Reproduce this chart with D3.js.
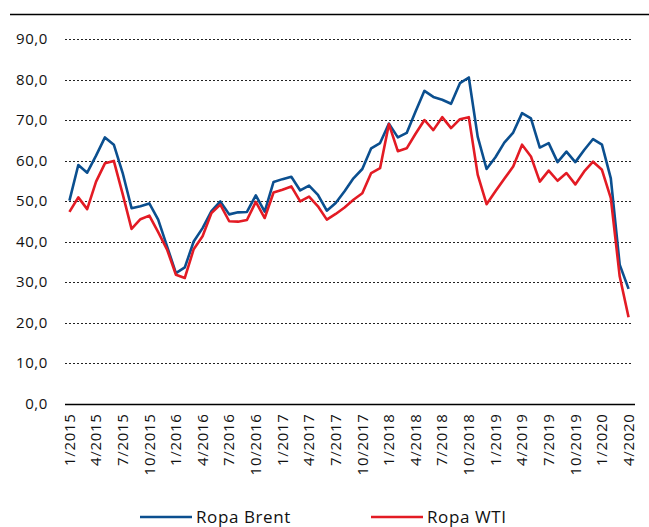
<!DOCTYPE html>
<html>
<head>
<meta charset="utf-8">
<script src="https://cdn.jsdelivr.net/npm/d3@7/dist/d3.min.js"></script>
<style>
  html, body { margin: 0; padding: 0; background: #fff; }
  svg { display: block; }
  text { font-family: "Open Sans", "Liberation Sans", sans-serif; fill: #111; }
</style>
</head>
<body>
<svg id="chart" width="649" height="527"></svg>
<script>
const categories = [
  "1/2015","2/2015","3/2015","4/2015","5/2015","6/2015","7/2015","8/2015","9/2015","10/2015","11/2015","12/2015",
  "1/2016","2/2016","3/2016","4/2016","5/2016","6/2016","7/2016","8/2016","9/2016","10/2016","11/2016","12/2016",
  "1/2017","2/2017","3/2017","4/2017","5/2017","6/2017","7/2017","8/2017","9/2017","10/2017","11/2017","12/2017",
  "1/2018","2/2018","3/2018","4/2018","5/2018","6/2018","7/2018","8/2018","9/2018","10/2018","11/2018","12/2018",
  "1/2019","2/2019","3/2019","4/2019","5/2019","6/2019","7/2019","8/2019","9/2019","10/2019","11/2019","12/2019",
  "1/2020","2/2020","3/2020","4/2020"
];
const tickLabels = ["1/2015","4/2015","7/2015","10/2015","1/2016","4/2016","7/2016","10/2016","1/2017","4/2017","7/2017","10/2017",
  "1/2018","4/2018","7/2018","10/2018","1/2019","4/2019","7/2019","10/2019","1/2020","4/2020"];
const yTicks = [0, 10, 20, 30, 40, 50, 60, 70, 80, 90];
const brent = [50.1,58.9,57.0,61.2,65.7,63.9,56.9,48.2,48.7,49.4,
  45.4,38.8,32.2,33.6,40.0,43.3,47.5,49.9,46.7,47.2,
  47.3,51.4,47.4,54.7,55.4,56.0,52.6,53.8,51.5,47.6,
  49.5,52.4,55.6,57.9,63.0,64.3,69.1,65.7,66.8,72.1,
  77.2,75.7,75.0,74.0,79.1,80.5,65.9,57.9,60.8,64.4,
  66.9,71.7,70.4,63.2,64.3,59.6,62.2,59.6,62.6,65.3,
  63.9,55.6,34.3,28.3];
const wti = [47.3,50.9,48.0,54.8,59.3,59.9,51.7,43.1,45.5,46.4,
  42.3,38.0,31.8,31.0,38.1,41.3,47.0,49.1,45.0,44.9,
  45.3,49.8,45.8,52.1,52.8,53.6,49.9,51.1,48.7,45.4,
  46.8,48.4,50.3,51.9,56.9,58.1,69.0,62.3,63.0,66.6,
  70.0,67.5,70.7,68.0,70.2,70.7,56.5,49.2,52.4,55.5,
  58.5,63.9,61.0,54.8,57.5,55.0,56.9,54.1,57.3,59.7,
  57.7,50.7,31.4,21.3];
const seriesNames = ["Ropa Brent", "Ropa WTI"];
const seriesColors = ["#0b4f8f", "#e31b24"];

const svg = d3.select("#chart");

// top rule
svg.append("line").attr("x1", 10).attr("x2", 649).attr("y1", 14.5).attr("y2", 14.5)
  .attr("stroke", "#000").attr("stroke-width", 1.3);

const x = d3.scaleBand().domain(categories).range([65, 633]).padding(0);
const y = d3.scaleLinear().domain([0, 90]).range([403.5, 39]);

// gridlines
svg.append("g").selectAll("line").data(yTicks.filter(d => d > 0)).join("line")
  .attr("x1", 65).attr("x2", 633)
  .attr("y1", d => Math.round(y(d)) + 0.5).attr("y2", d => Math.round(y(d)) + 0.5)
  .attr("stroke", "#222").attr("stroke-width", 1).attr("stroke-dasharray", "2,2");

// y axis labels
const yAxis = d3.axisLeft(y).tickValues(yTicks).tickSize(0).tickPadding(0)
  .tickFormat(d => d3.format(".1f")(d).replace(".", ","));
const gy = svg.append("g").attr("transform", "translate(48,0)").call(yAxis);
gy.select(".domain").remove();
gy.selectAll("text").attr("font-size", 15).attr("letter-spacing", 0.6)
  .attr("font-family", "'Open Sans', sans-serif").attr("fill", "#111");

// x axis
const xAxis = d3.axisBottom(x).tickValues(tickLabels).tickSize(0).tickPadding(0);
const gx = svg.append("g").attr("transform", `translate(0,${Math.round(y(0)) + 0.5})`).call(xAxis);
gx.select(".domain").remove();
gx.selectAll("text")
  .attr("font-size", 15).attr("letter-spacing", 0.7)
  .attr("font-family", "'Open Sans', sans-serif").attr("fill", "#111")
  .attr("transform", "rotate(-90)")
  .attr("text-anchor", "end")
  .attr("dy", "0.35em")
  .attr("x", -9).attr("y", 0);

svg.append("line").attr("x1", 65).attr("x2", 635)
  .attr("y1", Math.round(y(0)) + 0.5).attr("y2", Math.round(y(0)) + 0.5)
  .attr("stroke", "#000").attr("stroke-width", 1.3);

// lines
const line = d3.line()
  .x((d, i) => x(categories[i]) + x.bandwidth() / 2)
  .y(d => y(d));

[brent, wti].forEach((s, k) => {
  svg.append("path").datum(s)
    .attr("fill", "none").attr("stroke", seriesColors[k])
    .attr("stroke-width", 2.6).attr("stroke-linejoin", "round")
    .attr("d", line);
});

// legend
const legendX = [140, 371];
const lg = svg.append("g");
seriesNames.forEach((n, k) => {
  lg.append("line").attr("x1", legendX[k]).attr("x2", legendX[k] + 52)
    .attr("y1", 517).attr("y2", 517)
    .attr("stroke", seriesColors[k]).attr("stroke-width", 2.6);
  lg.append("text").attr("x", legendX[k] + 56).attr("y", 523)
    .attr("font-size", 17).attr("letter-spacing", 0.6)
    .text(n);
});
</script>
</body>
</html>
